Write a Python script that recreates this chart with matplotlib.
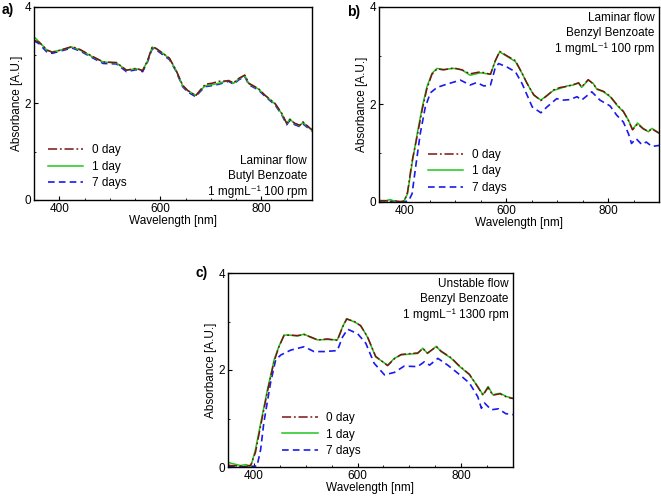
import numpy as np
import matplotlib
matplotlib.use('Agg')
import matplotlib.pyplot as plt
from matplotlib.ticker import MultipleLocator

plt.rcParams['font.family'] = ['Liberation Sans', 'DejaVu Sans']

# ---- panel a : laminar flow, butyl benzoate ----
wl_a = [350, 360, 376, 386, 400, 425, 441, 467, 487, 513, 533, 552, 565, 575, 584,
        592, 605, 618, 631, 644, 654, 670, 679, 689, 702, 716, 735, 745, 755, 767,
        775, 794, 807, 827, 840, 850, 856, 866, 876, 882, 897, 900]
a_day1 = [3.38, 3.28, 3.10, 3.07, 3.10, 3.17, 3.11, 2.96, 2.86, 2.84, 2.69, 2.72, 2.69, 2.89, 3.17,
          3.13, 3.04, 2.93, 2.69, 2.37, 2.27, 2.17, 2.27, 2.37, 2.39, 2.42, 2.48, 2.42, 2.51, 2.58,
          2.41, 2.30, 2.17, 1.99, 1.79, 1.58, 1.68, 1.58, 1.54, 1.61, 1.47, 1.45]
a_day0 = [3.31, 3.27, 3.11, 3.06, 3.10, 3.18, 3.12, 2.97, 2.86, 2.85, 2.69, 2.73, 2.68, 2.90, 3.18,
          3.14, 3.04, 2.94, 2.69, 2.38, 2.27, 2.16, 2.28, 2.40, 2.42, 2.46, 2.47, 2.43, 2.52, 2.59,
          2.42, 2.31, 2.17, 2.00, 1.80, 1.59, 1.67, 1.59, 1.55, 1.62, 1.48, 1.46]
a_day7 = [3.30, 3.24, 3.06, 3.04, 3.08, 3.15, 3.09, 2.94, 2.83, 2.82, 2.66, 2.70, 2.66, 2.87, 3.14,
          3.11, 3.01, 2.91, 2.67, 2.35, 2.24, 2.14, 2.25, 2.35, 2.37, 2.40, 2.46, 2.40, 2.49, 2.56,
          2.39, 2.28, 2.15, 1.97, 1.77, 1.56, 1.65, 1.56, 1.52, 1.58, 1.45, 1.43]

# ---- panel b : laminar flow, benzyl benzoate ----
wl_b = [350, 360, 372, 385, 395, 400, 406, 415, 425, 435, 444, 454, 464, 477, 497, 513,
        529, 549, 569, 578, 587, 601, 618, 631, 641, 654, 668, 680, 693, 706, 719, 732,
        742, 748, 761, 771, 778, 791, 804, 817, 830, 840, 848, 858, 869, 879, 886, 900]
b_day1 = [0.04, 0.02, 0.05, 0.00, 0.02, 0.03, 0.17, 0.79, 1.40, 1.95, 2.36, 2.64, 2.74, 2.72, 2.74, 2.71,
          2.60, 2.65, 2.62, 2.88, 3.08, 2.99, 2.88, 2.64, 2.43, 2.19, 2.09, 2.19, 2.29, 2.33, 2.38, 2.40,
          2.45, 2.35, 2.50, 2.43, 2.31, 2.26, 2.16, 1.99, 1.85, 1.68, 1.49, 1.62, 1.51, 1.44, 1.51, 1.42]
b_day0 = [0.02, 0.03, 0.01, 0.02, 0.00, 0.03, 0.20, 0.84, 1.35, 1.90, 2.32, 2.62, 2.73, 2.71, 2.75, 2.71,
          2.63, 2.67, 2.62, 2.89, 3.09, 3.00, 2.90, 2.64, 2.43, 2.20, 2.08, 2.18, 2.30, 2.35, 2.37, 2.41,
          2.44, 2.36, 2.51, 2.42, 2.32, 2.27, 2.17, 2.00, 1.86, 1.67, 1.48, 1.60, 1.50, 1.45, 1.50, 1.41]
wl_b7 = [350, 365, 380, 395, 408, 415, 422, 431, 441, 451, 464, 484, 510, 529, 542, 556, 569,
         578, 585, 601, 618, 631, 641, 651, 668, 680, 699, 712, 725, 739, 748, 768, 784, 804,
         817, 830, 840, 846, 855, 866, 875, 886, 900]
b_day7 = [0.03, 0.01, 0.02, 0.00, 0.02, 0.17, 0.72, 1.40, 1.95, 2.24, 2.35, 2.42, 2.50, 2.40, 2.45, 2.38, 2.40,
          2.74, 2.84, 2.77, 2.67, 2.43, 2.19, 1.95, 1.83, 1.95, 2.12, 2.09, 2.10, 2.16, 2.09, 2.26, 2.09, 1.97,
          1.78, 1.64, 1.40, 1.20, 1.30, 1.18, 1.23, 1.14, 1.16]

# ---- panel c : unstable flow, benzyl benzoate ----
wl_c = [350, 355, 374, 385, 394, 403, 413, 426, 439, 448, 458, 468, 484, 497, 510, 523,
        542, 561, 571, 579, 594, 606, 619, 635, 658, 671, 684, 703, 716, 726, 735, 752,
        761, 781, 794, 816, 832, 842, 852, 861, 875, 888, 900]
c_day1 = [0.10, 0.08, 0.03, 0.05, 0.01, 0.36, 0.90, 1.59, 2.21, 2.48, 2.72, 2.72, 2.70, 2.74, 2.67, 2.62,
          2.63, 2.62, 2.89, 3.06, 2.99, 2.92, 2.68, 2.27, 2.10, 2.24, 2.31, 2.33, 2.34, 2.45, 2.34, 2.49,
          2.38, 2.24, 2.10, 1.90, 1.66, 1.49, 1.66, 1.49, 1.52, 1.45, 1.42]
c_day0 = [0.04, 0.03, 0.02, 0.01, 0.04, 0.30, 0.85, 1.55, 2.18, 2.47, 2.71, 2.72, 2.71, 2.73, 2.68, 2.62,
          2.64, 2.61, 2.88, 3.05, 3.00, 2.91, 2.69, 2.28, 2.09, 2.23, 2.32, 2.34, 2.35, 2.44, 2.35, 2.48,
          2.39, 2.25, 2.11, 1.91, 1.65, 1.48, 1.64, 1.48, 1.51, 1.44, 1.41]
wl_c7 = [350, 370, 390, 406, 413, 419, 432, 442, 452, 471, 497, 516, 535, 561, 571, 581,
         600, 616, 632, 652, 671, 690, 716, 729, 739, 755, 774, 794, 816, 832, 839, 845,
         858, 872, 886, 900]
c_day7 = [0.02, 0.00, 0.01, 0.02, 0.36, 0.90, 1.73, 2.21, 2.31, 2.41, 2.48, 2.38, 2.38, 2.40, 2.68, 2.84,
          2.75, 2.55, 2.14, 1.90, 1.95, 2.08, 2.07, 2.17, 2.10, 2.24, 2.10, 1.93, 1.73, 1.45, 1.21, 1.32,
          1.18, 1.20, 1.10, 1.08]

labels = ['0 day', '1 day', '7 days']
notes = {
    'a': ['Laminar flow', 'Butyl Benzoate', '1 mgmL\u207b\u00b9 100 rpm'],
    'b': ['Laminar flow', 'Benzyl Benzoate', '1 mgmL\u207b\u00b9 100 rpm'],
    'c': ['Unstable flow', 'Benzyl Benzoate', '1 mgmL\u207b\u00b9 1300 rpm'],
}

c0 = '#7a1414'
c1 = '#1ec81e'
c7 = '#1a1aee'
FS = 8.5


def panel(ax, w0, y0, w1, y1, w7, y7, tag, note, note_top, leg_xy, tag_xy):
    l7, = ax.plot(w7, y7, color=c7, lw=1.2, ls=(0, (4, 2.5)))
    l1, = ax.plot(w1, y1, color=c1, lw=1.1)
    l0, = ax.plot(w0, y0, color=c0, lw=1.1, ls=(0, (6, 1.8, 1.2, 1.8)))
    ax.set_xlim(350, 900)
    ax.set_ylim(0, 4)
    ax.xaxis.set_major_locator(MultipleLocator(200))
    ax.xaxis.set_minor_locator(MultipleLocator(50))
    ax.yaxis.set_major_locator(MultipleLocator(2))
    ax.yaxis.set_minor_locator(MultipleLocator(1))
    ax.tick_params(which='both', direction='in', labelsize=FS, pad=2)
    ax.tick_params(which='major', length=3)
    ax.tick_params(which='minor', length=1.5)
    ax.set_xlabel('Wavelength [nm]', fontsize=FS, labelpad=0)
    ax.set_ylabel('Absorbance [A.U.]', fontsize=FS, labelpad=1)
    for s in ax.spines.values():
        s.set_linewidth(1.0)
    ax.legend([l0, l1, l7], labels, loc='lower left', bbox_to_anchor=leg_xy,
              frameon=False, fontsize=FS, handlelength=3.0, handletextpad=0.7,
              labelspacing=0.4, borderpad=0, borderaxespad=0)
    if note_top:
        ax.text(0.985, 0.975, '\n'.join(note), transform=ax.transAxes, ha='right',
                va='top', fontsize=FS, linespacing=1.35, multialignment='right')
    else:
        ax.text(0.982, 0.01, '\n'.join(note), transform=ax.transAxes, ha='right',
                va='bottom', fontsize=FS, linespacing=1.35, multialignment='right')
    ax.figure.text(tag_xy[0], tag_xy[1], tag + ')', fontsize=10, fontweight='bold',
                   ha='left', va='center')


fig = plt.figure(figsize=(6.61, 4.99), dpi=100)
ax_a = fig.add_axes([34 / 661, 299 / 499, 278 / 661, 193 / 499])
ax_b = fig.add_axes([379 / 661, 297 / 499, 280 / 661, 195 / 499])
ax_c = fig.add_axes([228 / 661, 32 / 499, 285 / 661, 194 / 499])

panel(ax_a, wl_a, a_day0, wl_a, a_day1, wl_a, a_day7, 'a', notes['a'], False,
      (0.05, 0.055), (2 / 661, 1 - 10 / 499))
panel(ax_b, wl_b, b_day0, wl_b, b_day1, wl_b7, b_day7, 'b', notes['b'], True,
      (0.175, 0.04), (347 / 661, 1 - 12 / 499))
panel(ax_c, wl_c, c_day0, wl_c, c_day1, wl_c7, c_day7, 'c', notes['c'], True,
      (0.19, 0.05), (196 / 661, 1 - 273 / 499))

fig.savefig('out.png', dpi=100)
